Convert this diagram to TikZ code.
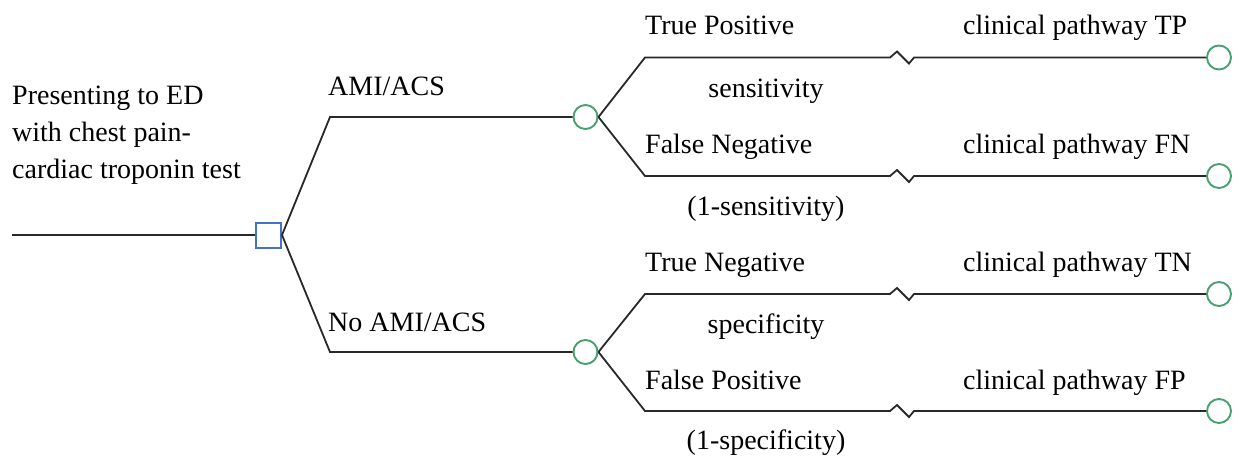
\documentclass[tikz,border=0pt]{standalone}
\usepackage{fontspec}
\setmainfont{Liberation Serif}
\newfontfamily\treefont{Liberation Serif}
\usetikzlibrary{positioning}
\definecolor{decblue}{RGB}{68,114,196}
\definecolor{chgreen}{RGB}{72,160,112}
\definecolor{linegray}{RGB}{40,40,40}

\begin{document}
\begin{tikzpicture}[x=1pt, y=-1pt,
	every node/.style={font=\treefont\fontsize{28}{37}\selectfont,
                        inner sep=0pt
                        },
	decision/.style={draw=decblue, line width=2pt,
                     minimum size=25pt, fill=white
    },
	chance/.style={circle, draw=chgreen, line width=1.9pt,
                   minimum size=24pt, fill=white
    },
	branch/.style={draw=linegray, line width=1.8pt},
	lbl/.style={anchor=base west},
	prob/.style={anchor=base}
]
	\useasboundingbox (0,0) rectangle (1239,459);
	% decision and chance nodes
	\coordinate (start) at (12,235);
	\node (dec) [decision] at (268.5,235) {};
	\node (cA) [chance] at (585.5,117) {};
	\node (cB) [chance] at (585.5,352) {};
	\coordinate (kA) at (330,117);
	\coordinate (kB) at (330,352);
	% end nodes
	\node (TP) [chance] at (1219,57.5) {};
	\node (FN) [chance] at (1219,176) {};
	\node (TN) [chance] at (1219,294) {};
	\node (FP) [chance] at (1219,411) {};
	\coordinate (kTP) at (645,57.5);
	\coordinate (kFN) at (645,176);
	\coordinate (kTN) at (645,294);
	\coordinate (kFP) at (645,411);

	% texts
	\node (intro) [anchor=north west, align=left] at (12,86) {Presenting to ED\\ with chest pain-\\ cardiac troponin test};
	\node (ami) [lbl] at (328,95) {AMI/ACS};
	\node (noami) [lbl] at (328,331) {No AMI/ACS};
	\node (tpos) [lbl] at (645,34) {True Positive};
	\node (fneg) [lbl] at (645,153) {False Negative};
	\node (tneg) [lbl] at (645,271) {True Negative};
	\node (fpos) [lbl] at (645,389) {False Positive};
	\node (sens) [prob] at (766,97) {sensitivity};
	\node (nsens) [prob] at (766,215) {(1-sensitivity)};
	\node (spec) [prob] at (766,333) {specificity};
	\node (nspec) [prob] at (766,449) {(1-specificity)};
	\node (pTP) [lbl] at (963,34) {clinical pathway TP};
	\node (pFN) [lbl] at (963,153) {clinical pathway FN};
	\node (pTN) [lbl] at (963,271) {clinical pathway TN};
	\node (pFP) [lbl] at (963,389) {clinical pathway FP};

	% branches
	\draw[branch] (start) -- (dec.west);
	\draw[branch] (dec.east) -- (kA) -- (cA.west);
	\draw[branch] (dec.east) -- (kB) -- (cB.west);
	\draw[branch] (cA.east) -- (kTP) -- ++(245,0) -- ++(7,-6) -- ++(12,12) -- ++(5,-6) -- (TP.west);
	\draw[branch] (cA.east) -- (kFN) -- ++(245,0) -- ++(7,-6) -- ++(12,12) -- ++(5,-6) -- (FN.west);
	\draw[branch] (cB.east) -- (kTN) -- ++(245,0) -- ++(7,-6) -- ++(12,12) -- ++(5,-6) -- (TN.west);
	\draw[branch] (cB.east) -- (kFP) -- ++(245,0) -- ++(7,-6) -- ++(12,12) -- ++(5,-6) -- (FP.west);
\end{tikzpicture}
\end{document}
